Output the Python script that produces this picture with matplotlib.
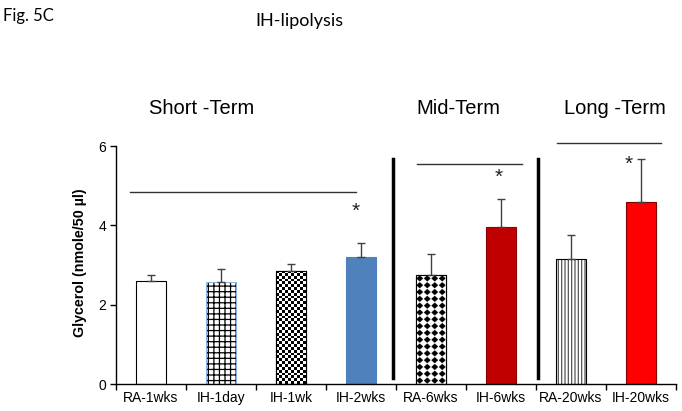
import numpy as np
import matplotlib
matplotlib.use("Agg")
import matplotlib as mpl
import matplotlib.pyplot as plt
from matplotlib.patches import Rectangle

categories = ["RA-1wks", "IH-1day", "IH-1wk", "IH-2wks", "RA-6wks", "IH-6wks", "RA-20wks", "IH-20wks"]
values = [2.60, 2.58, 2.85, 3.19, 2.74, 3.97, 3.15, 4.58]
errors = [0.15, 0.33, 0.17, 0.36, 0.53, 0.70, 0.60, 1.09]
yticks = [0, 2, 4, 6]
groups = ["Short -Term", "Mid-Term", "Long -Term"]
# significance bars: (x start, x end, y)
sig_lines = [(-0.3, 2.93, 4.85), (3.8, 5.3, 5.55), (5.8, 7.28, 6.07)]
stars = [(2.93, 4.35), (4.97, 5.2), (6.82, 5.53)]
separators = [3.46, 5.53]

plt.rcParams['font.family'] = ['Liberation Sans', 'DejaVu Sans']
plt.rcParams['hatch.linewidth'] = 0.9

W, H = 682, 411
fig = plt.figure(figsize=(W / 100, H / 100), dpi=100)
ax = fig.add_axes([116 / W, 1 - 384 / H, (676 - 116) / W, (384 - 146) / H])
ax.set_xlim(-0.5, 7.5)
ax.set_ylim(0, 6)

x = np.arange(len(categories))
bw = 0.42
faces = ["white", "white", "white", "#4F81BD", "white", "#C00000", "white", "#FF0000"]
edges = ["black", "#8DB3E2", "black", "#4F81BD", "black", "#8B0000", "black", "#7F0000"]

bars = ax.bar(x, values, width=bw, color=faces, edgecolor=edges, linewidth=0.8, zorder=2)
bars[1].set_hatch("+++")
bars[6].set_hatch("|||||")
bars[1]._hatch_color = mpl.colors.to_rgba("black")
bars[6]._hatch_color = mpl.colors.to_rgba("#555555")

# error bars (upper only)
ax.errorbar(x, values, yerr=[np.zeros(len(errors)), errors], fmt="none",
            ecolor="#404040", elinewidth=1.0, capsize=3, capthick=1.0, zorder=3)

# checkerboard fill for IH-1wk
b = bars[2]
nx, ny = 10, int(round(values[2] / 6 * 238 / 2.8))
checker = (np.indices((ny, nx)).sum(axis=0) % 2).astype(float)
im = ax.imshow(checker, cmap="gray", extent=[b.get_x(), b.get_x() + bw, 0, values[2]],
               aspect="auto", interpolation="nearest", zorder=2.5, vmin=0, vmax=1)
im.set_clip_path(b)
ax.add_patch(Rectangle((b.get_x(), 0), bw, values[2], fill=False, edgecolor="black",
                       linewidth=0.8, zorder=2.6))

# diamond-dot pattern for RA-6wks
b = bars[4]
cell = 14
yy, xx = np.mgrid[0:cell, 0:cell]
c = (cell - 1) / 2
motif = ((np.abs(yy - c) + np.abs(xx - c)) > 6.0).astype(float)
ncols = 4
nrows = int(round(values[4] / 6 * 238 / 6.8))
dots = np.tile(motif, (nrows, ncols))
im2 = ax.imshow(dots, cmap="gray", extent=[b.get_x(), b.get_x() + bw, 0, values[4]],
                aspect="auto", interpolation="antialiased", zorder=2.5, vmin=0, vmax=1)
im2.set_clip_path(b)
ax.add_patch(Rectangle((b.get_x(), 0), bw, values[4], fill=False, edgecolor="black",
                       linewidth=0.8, zorder=2.6))

# axes styling
for s in ["top", "right"]:
    ax.spines[s].set_visible(False)
ax.spines["left"].set_linewidth(1.0)
ax.spines["bottom"].set_linewidth(1.0)
ax.set_yticks(yticks)
ax.set_yticklabels([str(t) for t in yticks], fontsize=10)
ax.tick_params(axis="y", direction="out", length=4, width=1, pad=3)
ax.set_xticks(np.arange(-0.5, 7.6, 1.0))
ax.set_xticklabels([])
ax.set_xticks(x, minor=True)
ax.set_xticklabels(categories, minor=True, fontsize=10)
ax.tick_params(axis="x", which="major", direction="out", length=4, width=1)
ax.tick_params(axis="x", which="minor", length=0, pad=5)

ax.set_ylabel("Glycerol (nmole/50 µl)", fontsize=10.3, fontweight="bold", labelpad=8)
ax.yaxis.label.set_position((0, (384 - 263) / 238))

# significance lines and stars
for x0, x1, y in sig_lines:
    ax.plot([x0, x1], [y, y], color="#333333", linewidth=1.0, clip_on=False, zorder=3)
for sx, sy in stars:
    ax.text(sx, sy, "*", ha="center", va="center", fontsize=15, color="#222222")

# separators
for sx in separators:
    ax.plot([sx, sx], [0.15, 5.68], color="black", linewidth=2.5, zorder=3, clip_on=False)

# group headers
fig.text(202 / W, 1 - 108 / H, groups[0], ha="center", va="center", fontsize=14.5)
fig.text(458 / W, 1 - 108 / H, groups[1], ha="center", va="center", fontsize=14.5)
fig.text(615 / W, 1 - 108 / H, groups[2], ha="center", va="center", fontsize=14.5)

fig.text(3 / W, 1 - 16 / H, "Fig. 5C", ha="left", va="center", fontsize=12,
         family=["Lato", "DejaVu Sans"])
fig.text(299 / W, 1 - 21 / H, "IH-lipolysis", ha="center", va="center", fontsize=13,
         family=["Lato", "DejaVu Sans"])

fig.savefig("out.png", dpi=100)
